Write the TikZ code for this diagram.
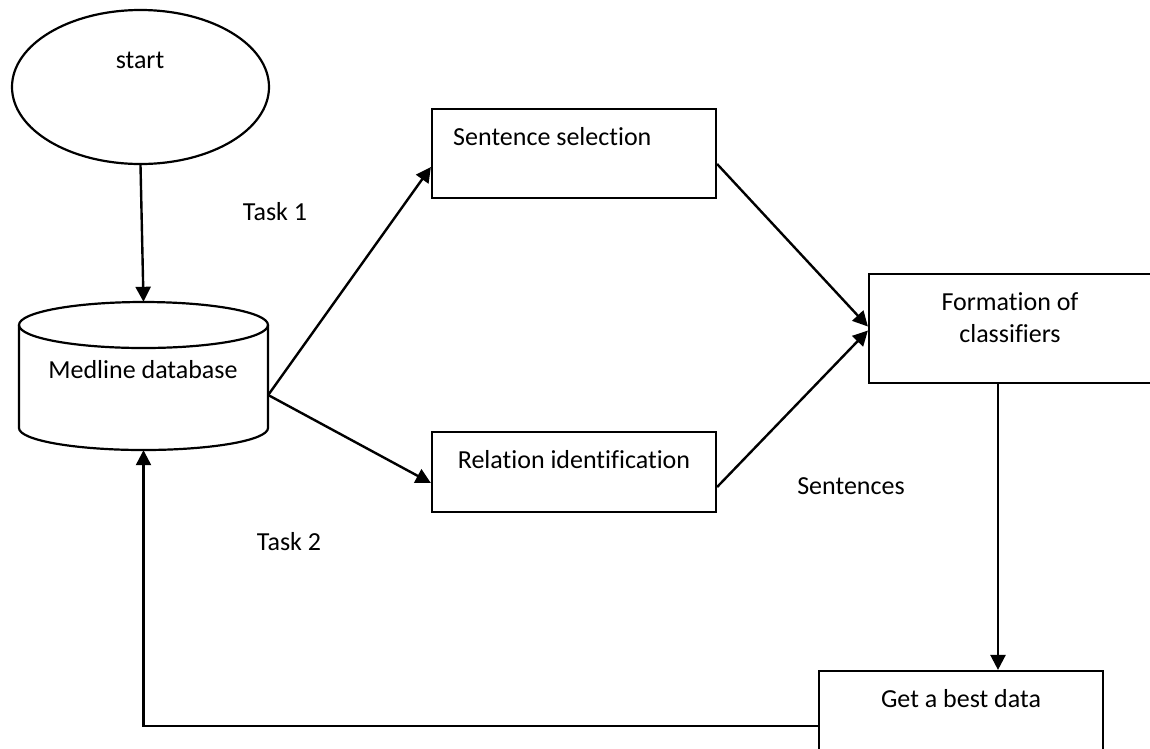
\documentclass[tikz,border=0pt]{standalone}
\usepackage{fontspec}
\setmainfont{Carlito}[Ligatures=NoCommon]
\usetikzlibrary{arrows.meta,shapes.geometric,calc}
\begin{document}
\begin{tikzpicture}[x=1pt,y=-1pt,
  box/.style={draw, line width=2.2pt, rectangle, inner sep=0pt},
  arr/.style={line width=2.4pt, -{Triangle[length=15pt,width=15pt]}},
  lbl/.style={inner sep=0pt, font=\fontsize{26}{32}\selectfont}]
\useasboundingbox (0,0) rectangle (1150,748);
\clip (0,0) rectangle (1150,748);
% start ellipse
\node[draw, ellipse, line width=2.2pt, minimum width=257pt, minimum height=154pt, inner sep=0pt] (start) at (140.5,87) {};
\node[lbl] (starttext) at (140,60) {start};
% database cylinder
\node[inner sep=0pt, minimum width=249pt, minimum height=148pt] (db) at (143.5,376) {};
\draw[line width=2.2pt] (143.5,325) ellipse [x radius=124.5pt, y radius=23pt];
\draw[line width=2.2pt] (19,325) -- (19,428) arc[start angle=180, end angle=360, x radius=124.5pt, y radius=22pt] -- (268,325);
\node[lbl] (dbtext) at (143,370) {Medline database};
% boxes
\node[box, minimum width=284pt, minimum height=89pt] (ss) at (574,153.5) {};
\node[lbl, anchor=west] (sstext) at (453,137) {Sentence selection};
\node[box, minimum width=284pt, minimum height=80pt] (rel) at (574,472) {};
\node[lbl] (reltext) at (574,460) {Relation identification};
\node[box, minimum width=283pt, minimum height=109pt] (fc) at (1010.5,328.5) {};
\node[lbl, align=center] (fctext) at (1010,317.5) {Formation of\\classifiers};
\node[box, minimum width=284pt, minimum height=110pt] (gd) at (961,726) {};
\node[lbl] (gdtext) at (961,699) {Get a best data};
% labels
\node[lbl] (task1) at (275,212) {Task 1};
\node[lbl] (task2) at (289,542) {Task 2};
\node[lbl] (sent) at (851,486) {Sentences};
% connectors
\draw[arr] (start.south) -- (db.north);
\draw[arr] ([yshift=-19pt]db.east) -- ([yshift=-13.5pt]ss.west);
\draw[arr] ([yshift=-19pt]db.east) -- ([yshift=-11pt]rel.west);
\draw[arr] ([yshift=-10.5pt]ss.east) -- ([yshift=2pt]fc.west);
\draw[arr] ([yshift=-15pt]rel.east) -- ([yshift=-2pt]fc.west);
\draw[arr] ([xshift=-12.5pt]fc.south) -- ([xshift=37pt]gd.north);
\draw[arr] (gd.west) -| (db.south);
\end{tikzpicture}
\end{document}
